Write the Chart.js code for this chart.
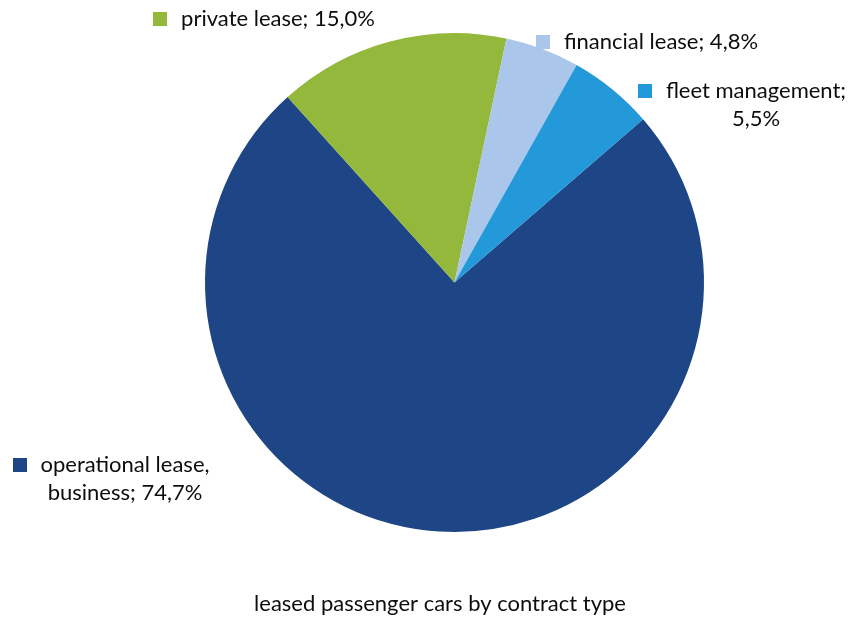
<!DOCTYPE html>
<html>
<head>
<meta charset="utf-8">
<script src="https://cdn.jsdelivr.net/npm/chart.js@4/dist/chart.umd.min.js"></script>
<style>
  html, body { margin: 0; padding: 0; background: #fff; }
  #wrap { width: 852px; height: 618px; position: relative; }
</style>
</head>
<body>
<div id="wrap"><canvas id="pie" width="852" height="618"></canvas></div>
<script>
// contract types, in drawing order (clockwise from the rotation angle)
const categories = ['operational lease, business', 'private lease', 'financial lease', 'fleet management'];
const shares = [74.7, 15.0, 4.8, 5.5];
// label text, split into lines as set on the chart
const labelLines = [
  ['operational lease,', 'business; 74,7%'],
  ['private lease; 15,0%'],
  ['financial lease; 4,8%'],
  ['fleet management;', '5,5%'],
];
const chartTitle = 'leased passenger cars by contract type';

const colors = ['#1E4585', '#94B83B', '#AAC6EA', '#2499D9'];
// label block placement: centre x of text, centre y of first line
const labelPos = [
  { cx: 125, cy: 465 },
  { cx: 278, cy: 19 },
  { cx: 661, cy: 42 },
  { cx: 756, cy: 91 },
];
const FONT = '22px Lato, "Open Sans", sans-serif';
const TEXT_COLOR = '#0d0d0d';

const outsideLabels = {
  id: 'outsideLabels',
  afterDraw(chart) {
    const ctx = chart.ctx;
    ctx.save();
    ctx.font = FONT;
    ctx.fillStyle = TEXT_COLOR;
    ctx.textBaseline = 'middle';
    ctx.textAlign = 'center';
    labelLines.forEach((lines, i) => {
      const p = labelPos[i];
      lines.forEach((t, k) => ctx.fillText(t, p.cx, p.cy + k * 28));
      const w = ctx.measureText(lines[0]).width;
      const sq = 14;
      ctx.fillStyle = colors[i];
      ctx.fillRect(Math.round(p.cx - w / 2 - 14 - sq), Math.round(p.cy - sq / 2), sq, sq);
      ctx.fillStyle = TEXT_COLOR;
    });
    ctx.fillText(chartTitle, 440, 604);
    ctx.restore();
  },
};

new Chart(document.getElementById('pie'), {
  type: 'pie',
  data: {
    labels: categories,
    datasets: [{
      data: shares,
      backgroundColor: colors,
      borderWidth: 0,
    }],
  },
  options: {
    responsive: false,
    animation: false,
    rotation: 49.1,
    layout: { padding: { left: 205, right: 148, top: 33, bottom: 86 } },
    plugins: {
      legend: { display: false },
      tooltip: { enabled: false },
      title: { display: false },
    },
  },
  plugins: [outsideLabels],
});
</script>
</body>
</html>
